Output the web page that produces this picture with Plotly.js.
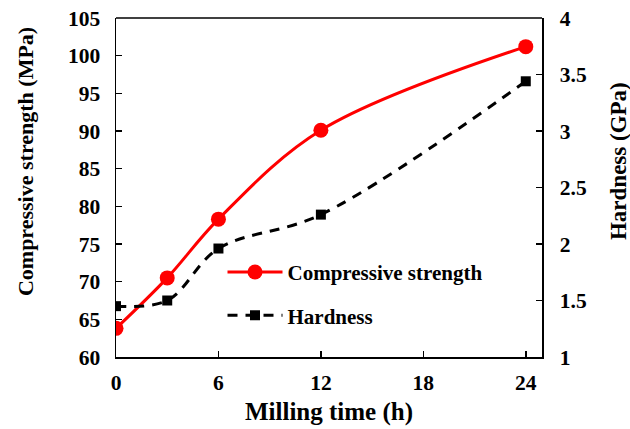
<!DOCTYPE html>
<html><head><meta charset="utf-8">
<script src="https://cdn.plot.ly/plotly-3.0.1.min.js"></script>
<style>html,body{margin:0;padding:0;background:#fff}#chart{width:630px;height:429px}</style>
</head><body><div id="chart"></div>
<script>
const millingTime = [0, 3, 6, 12, 24];
const compressiveStrength = [63.8, 70.5, 78.3, 90.1, 101.2];
const hardness = [1.45, 1.50, 1.96, 2.26, 3.44];
const xTicks = [0, 6, 12, 18, 24];
const yLeftTicks = [60, 65, 70, 75, 80, 85, 90, 95, 100, 105];
const yRightTicks = [1, 1.5, 2, 2.5, 3, 3.5, 4];

const font = {family: '"Liberation Serif", "Times New Roman", serif', color: '#000'};
const data = [
  {x: millingTime, y: compressiveStrength, name: '<b>Compressive strength</b>', legendgroup: 'a', type: 'scatter', mode: 'lines+markers',
   line: {color: '#ff0000', width: 3, shape: 'spline', smoothing: 1},
   marker: {color: '#ff0000', symbol: 'circle', size: 15}},
  {x: millingTime, y: hardness, name: '<b>Hardness</b>', legendgroup: 'b', yaxis: 'y2', type: 'scatter', mode: 'lines+markers',
   line: {color: '#000', width: 3, dash: '10px,8px', shape: 'spline', smoothing: 1},
   marker: {color: '#000', symbol: 'square', size: 10}}
];
const layout = {
  width: 630, height: 429,
  margin: {l: 116, r: 88, t: 18, b: 72},
  paper_bgcolor: '#fff', plot_bgcolor: '#fff',
  font: Object.assign({size: 21}, font),
  showlegend: true,
  legend: {x: 0.25, y: 0.31, xanchor: 'left', yanchor: 'top', bgcolor: 'rgba(0,0,0,0)', traceorder: 'grouped',
    font: Object.assign({size: 21}, font), itemwidth: 55, tracegroupgap: 13},
  xaxis: {range: [0, 24.95], tickvals: xTicks, ticktext: xTicks.map(v => '<b>' + v + '</b>'),
    ticks: 'inside', ticklen: 6, tickwidth: 1.5, tickcolor: '#000', ticklabelstandoff: 6,
    tickfont: Object.assign({size: 21.5}, font),
    showline: true, linecolor: '#000', linewidth: 1.5, mirror: false, showgrid: false, zeroline: false,
    title: {text: '<b>Milling time (h)</b>', font: Object.assign({size: 25}, font), standoff: 8}},
  yaxis: {range: [60, 105], tickvals: yLeftTicks, ticktext: yLeftTicks.map(v => '<b>' + v + '</b>'),
    ticks: 'inside', ticklen: 6, tickwidth: 1.5, tickcolor: '#000', ticklabelstandoff: 10,
    tickfont: Object.assign({size: 21.5}, font),
    showline: true, linecolor: '#000', linewidth: 1.5, showgrid: false, zeroline: false},
  yaxis2: {range: [1, 4], overlaying: 'y', side: 'right', tickvals: yRightTicks, ticktext: yRightTicks.map(v => '<b>' + v + '</b>'),
    ticks: 'inside', ticklen: 6, tickwidth: 1.5, tickcolor: '#000', ticklabelstandoff: 12,
    tickfont: Object.assign({size: 21.5}, font),
    showline: true, linecolor: '#000', linewidth: 1.5, showgrid: false, zeroline: false},
  annotations: [
    {text: '<b>Compressive strength (MPa)</b>', xref: 'paper', yref: 'paper', x: -0.2136, y: 0.575,
     xanchor: 'center', yanchor: 'middle', textangle: -90, showarrow: false, font: Object.assign({size: 22}, font)},
    {text: '<b>Hardness (GPa)</b>', xref: 'paper', yref: 'paper', x: 1.1784, y: 0.578,
     xanchor: 'center', yanchor: 'middle', textangle: -90, showarrow: false, font: Object.assign({size: 23}, font)}
  ],
  shapes: [{type: 'line', xref: 'paper', yref: 'paper', x0: 0, x1: 1, y0: 1, y1: 1, line: {color: '#000', width: 1.5}}]
};
Plotly.newPlot('chart', data, layout, {displayModeBar: false, staticPlot: true});
</script></body></html>
